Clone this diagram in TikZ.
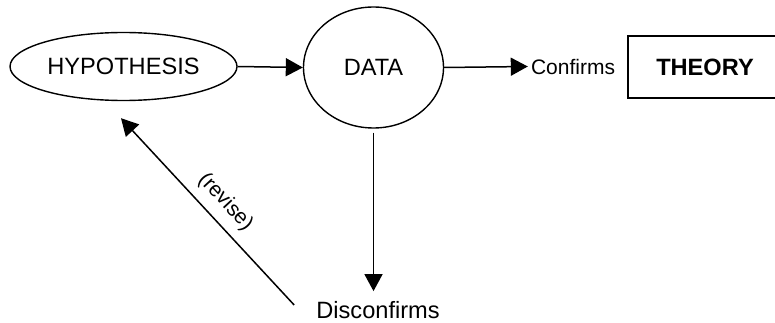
\documentclass[tikz,border=0pt]{standalone}
\usepackage{fontspec}
\setmainfont{Liberation Sans}
\usetikzlibrary{shapes.geometric,arrows.meta}
\tikzset{
  big/.style={font=\fontsize{23.6}{28}\selectfont},
  small/.style={font=\fontsize{21}{25}\selectfont},
  outline/.style={draw, line width=1.4pt},
  arr/.style={line width=1.5pt, -{Triangle[length=17pt,width=18pt]}},
}
\begin{document}
\begin{tikzpicture}[x=1pt,y=-1pt]
\clip (0,0) rectangle (775,323);
\fill[white] (0,0) rectangle (775,323);
\node[outline, ellipse, big, minimum width=227pt, minimum height=68pt, inner sep=0pt] (hyp) at (123.5,66.5) {HYPOTHESIS};
\node[outline, ellipse, big, minimum width=140pt, minimum height=121pt, inner sep=0pt] (data) at (373.5,67.5) {DATA};
\node[small, inner sep=3pt] (conf) at (573,66.5) {Confirms};
\node[outline, rectangle, big, minimum width=154pt, minimum height=62pt, inner sep=0pt] (theory) at (705,67) {\textbf{THEORY}};
\node[big, inner sep=2pt] (disc) at (378,310) {Disconfirms};
\draw[arr] (hyp.east) -- (data.west);
\draw[arr] (data.east) -- (conf.west);
\draw[arr, shorten <=4pt] (data.south) -- ([yshift=8pt]data.south |- disc.north);
\draw[arr] ([shift={(-20,-5)}]disc.west) -- node[small, sloped, above, pos=0.48, inner sep=9pt] {(revise)} ([shift={(-2.5,17)}]hyp.south);
\end{tikzpicture}
\end{document}
